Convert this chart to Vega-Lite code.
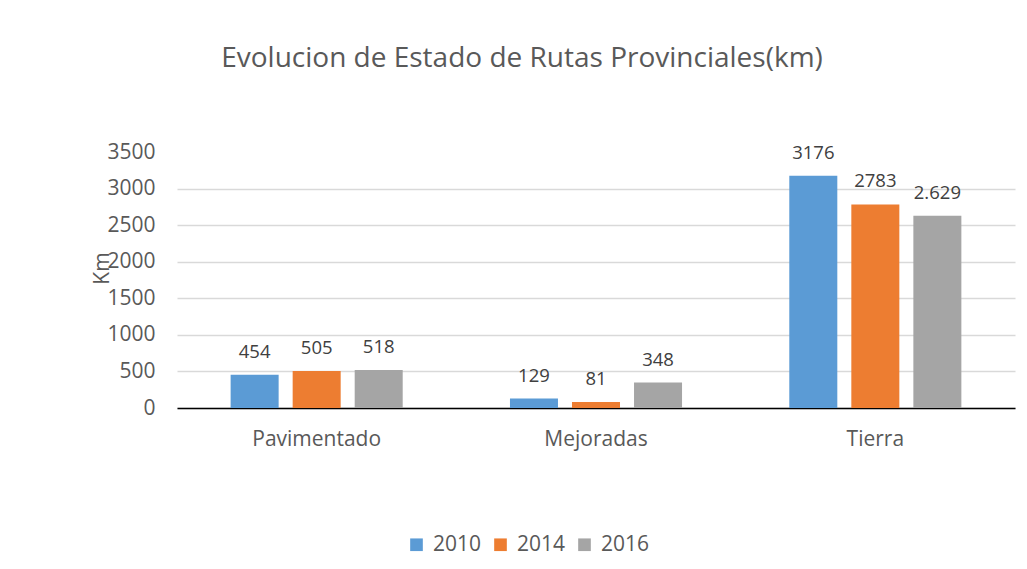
{
  "$schema": "https://vega.github.io/schema/vega-lite/v6.json",
  "autosize": {"type": "none"},
  "padding": {"left": 177, "top": 152, "right": 12, "bottom": 161},
  "width": 838,
  "height": 256,
  "background": "white",
  "config": {
    "view": {"stroke": null},
    "font": "Open Sans",
    "text": {"font": "Open Sans"}
  },
  "title": {
    "text": "Evolucion de Estado de Rutas Provinciales(km)",
    "font": "Open Sans",
    "fontSize": 28,
    "fontWeight": "normal",
    "color": "#595959",
    "anchor": "middle",
    "frame": "group",
    "dx": -74,
    "offset": 68
  },
  "data": {
    "values": [
      {"categoria": "Pavimentado", "anio": "2010", "km": 454, "etiqueta": "454"},
      {"categoria": "Pavimentado", "anio": "2014", "km": 505, "etiqueta": "505"},
      {"categoria": "Pavimentado", "anio": "2016", "km": 518, "etiqueta": "518"},
      {"categoria": "Mejoradas", "anio": "2010", "km": 129, "etiqueta": "129"},
      {"categoria": "Mejoradas", "anio": "2014", "km": 81, "etiqueta": "81"},
      {"categoria": "Mejoradas", "anio": "2016", "km": 348, "etiqueta": "348"},
      {"categoria": "Tierra", "anio": "2010", "km": 3176, "etiqueta": "3176"},
      {"categoria": "Tierra", "anio": "2014", "km": 2783, "etiqueta": "2783"},
      {"categoria": "Tierra", "anio": "2016", "km": 2629, "etiqueta": "2.629"}
    ]
  },
  "encoding": {
    "x": {
      "field": "categoria",
      "type": "nominal",
      "sort": ["Pavimentado", "Mejoradas", "Tierra"],
      "scale": {"paddingInner": 0.384, "paddingOuter": 0.192},
      "axis": {
        "title": null,
        "labelAngle": 0,
        "labelFont": "Open Sans",
        "labelFontSize": 21,
        "labelColor": "#595959",
        "labelPadding": 20,
        "ticks": false,
        "domain": true,
        "domainColor": "#000000",
        "domainWidth": 1.5
      }
    },
    "xOffset": {
      "field": "anio",
      "type": "nominal",
      "scale": {"paddingInner": 0.226, "paddingOuter": 0}
    },
    "y": {
      "field": "km",
      "type": "quantitative",
      "scale": {"domain": [0, 3500], "nice": false},
      "axis": {
        "values": [0, 500, 1000, 1500, 2000, 2500, 3000, 3500],
        "format": "d",
        "title": "Km",
        "titleFont": "Open Sans",
        "titleFontSize": 21,
        "titleFontWeight": "normal",
        "titleColor": "#595959",
        "titleAngle": -90,
        "titleX": -69,
        "titleY": 116,
        "titleAlign": "center",
        "titleBaseline": "alphabetic",
        "labelFont": "Open Sans",
        "labelFontSize": 21,
        "labelColor": "#595959",
        "labelPadding": 22,
        "ticks": false,
        "domain": false,
        "grid": true,
        "gridColor": {"condition": {"test": "datum.value === 3500", "value": "transparent"}, "value": "#d9d9d9"},
        "gridWidth": 1.5
      }
    }
  },
  "layer": [
    {
      "mark": {"type": "bar"},
      "encoding": {
        "color": {
          "field": "anio",
          "type": "nominal",
          "scale": {"domain": ["2010", "2014", "2016"], "range": ["#5B9BD5", "#ED7D31", "#A5A5A5"]},
          "legend": {
            "title": null,
            "orient": "none",
            "direction": "horizontal",
            "legendX": 229,
            "legendY": 382,
            "symbolType": "square",
            "symbolSize": 160,
            "symbolStrokeWidth": 0,
            "labelFont": "Open Sans",
            "labelFontSize": 21,
            "labelColor": "#595959",
            "labelOffset": 6,
            "columnPadding": 8
          }
        }
      }
    },
    {
      "mark": {"type": "text", "baseline": "bottom", "dy": -13, "fontSize": 18.5, "color": "#404040", "font": "Open Sans"},
      "encoding": {
        "text": {"field": "etiqueta", "type": "nominal"}
      }
    }
  ]
}
